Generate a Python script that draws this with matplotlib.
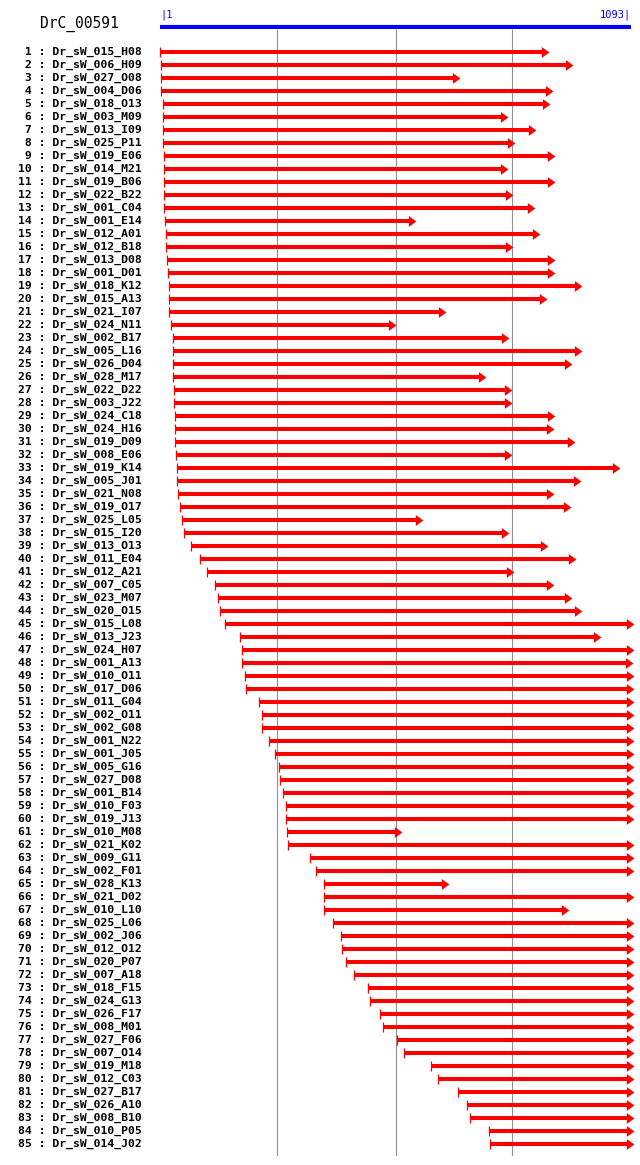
import matplotlib
matplotlib.use("Agg")
import matplotlib.pyplot as plt
import matplotlib.transforms as mtransforms
import numpy as np

# clone set aligned on DrC_00591 (length 1093)
title = "DrC_00591"
seq_len = 1093

names = [
    "Dr_sW_015_H08", "Dr_sW_006_H09", "Dr_sW_027_O08", "Dr_sW_004_D06", "Dr_sW_018_O13",
    "Dr_sW_003_M09", "Dr_sW_013_I09", "Dr_sW_025_P11", "Dr_sW_019_E06", "Dr_sW_014_M21",
    "Dr_sW_019_B06", "Dr_sW_022_B22", "Dr_sW_001_C04", "Dr_sW_001_E14", "Dr_sW_012_A01",
    "Dr_sW_012_B18", "Dr_sW_013_D08", "Dr_sW_001_D01", "Dr_sW_018_K12", "Dr_sW_015_A13",
    "Dr_sW_021_I07", "Dr_sW_024_N11", "Dr_sW_002_B17", "Dr_sW_005_L16", "Dr_sW_026_D04",
    "Dr_sW_028_M17", "Dr_sW_022_D22", "Dr_sW_003_J22", "Dr_sW_024_C18", "Dr_sW_024_H16",
    "Dr_sW_019_D09", "Dr_sW_008_E06", "Dr_sW_019_K14", "Dr_sW_005_J01", "Dr_sW_021_N08",
    "Dr_sW_019_O17", "Dr_sW_025_L05", "Dr_sW_015_I20", "Dr_sW_013_O13", "Dr_sW_011_E04",
    "Dr_sW_012_A21", "Dr_sW_007_C05", "Dr_sW_023_M07", "Dr_sW_020_O15", "Dr_sW_015_L08",
    "Dr_sW_013_J23", "Dr_sW_024_H07", "Dr_sW_001_A13", "Dr_sW_010_O11", "Dr_sW_017_D06",
    "Dr_sW_011_G04", "Dr_sW_002_O11", "Dr_sW_002_G08", "Dr_sW_001_N22", "Dr_sW_001_J05",
    "Dr_sW_005_G16", "Dr_sW_027_D08", "Dr_sW_001_B14", "Dr_sW_010_F03", "Dr_sW_019_J13",
    "Dr_sW_010_M08", "Dr_sW_021_K02", "Dr_sW_009_G11", "Dr_sW_002_F01", "Dr_sW_028_K13",
    "Dr_sW_021_D02", "Dr_sW_010_L10", "Dr_sW_025_L06", "Dr_sW_002_J06", "Dr_sW_012_O12",
    "Dr_sW_020_P07", "Dr_sW_007_A18", "Dr_sW_018_F15", "Dr_sW_024_G13", "Dr_sW_026_F17",
    "Dr_sW_008_M01", "Dr_sW_027_F06", "Dr_sW_007_O14", "Dr_sW_019_M18", "Dr_sW_012_C03",
    "Dr_sW_027_B17", "Dr_sW_026_A10", "Dr_sW_008_B10", "Dr_sW_010_P05", "Dr_sW_014_J02",
]

starts = [
    1, 4, 4, 4, 9, 9, 9, 9, 11, 11,
    11, 11, 11, 13, 16, 16, 18, 20, 23, 23,
    23, 27, 30, 30, 32, 32, 34, 34, 36, 36,
    36, 39, 41, 41, 43, 48, 53, 57, 74, 94,
    111, 129, 136, 141, 152, 187, 190, 192, 199, 201,
    231, 238, 238, 254, 268, 278, 280, 287, 292, 294,
    296, 298, 349, 363, 382, 382, 382, 403, 421, 424,
    433, 451, 484, 489, 512, 519, 551, 567, 630, 646,
    693, 713, 720, 764, 767,
]

ends = [
    897, 952, 690, 905, 899, 801, 866, 817, 910, 801,
    910, 812, 863, 588, 875, 812, 910, 910, 972, 891,
    657, 541, 803, 972, 949, 750, 810, 810, 910, 908,
    956, 810, 1061, 970, 908, 947, 604, 803, 894, 959,
    815, 908, 949, 972, 1093, 1017, 1093, 1091, 1093, 1093,
    1093, 1093, 1093, 1093, 1093, 1093, 1093, 1093, 1093, 1093,
    555, 1093, 1093, 1093, 664, 1093, 942, 1093, 1093, 1093,
    1093, 1093, 1093, 1093, 1093, 1093, 1093, 1093, 1093, 1093,
    1093, 1093, 1093, 1093, 1093,
]

grid_pos = [272, 547, 817]

RED = "#ff0000"
BLUE = "#0000ff"
GREY = "#909090"

W, H = 640, 1165
fig = plt.figure(figsize=(W / 100, H / 100), dpi=100)

# main track area: x in sequence coords, y in row numbers
x0, x1 = 160, 631
y_top, y_bot = 29, 1156
ax = fig.add_axes([x0 / W, 1 - y_bot / H, (x1 - x0) / W, (y_bot - y_top) / H])
ax.set_xlim(1, seq_len)
ax.set_ylim(1 + (y_bot - 52) / 13, 1 + (y_top - 52) / 13)
ax.axis("off")

rows = np.arange(1, len(names) + 1)

ax.vlines(grid_pos, *ax.get_ylim(), colors=GREY, lw=0.8, zorder=1)

ax.hlines(rows, starts, ends, colors=RED, lw=2.9, zorder=2, clip_on=False)
ax.vlines(starts, rows - 0.37, rows + 0.37, colors=RED, lw=0.9, zorder=3, clip_on=False)
head = [(2.7, 0), (-4.3, 5), (-4.3, -5), (2.7, 0)]
ax.plot(ends, rows, ls="none", marker=head, ms=7.8, mew=0, color=RED,
        zorder=3, clip_on=False)

# labels at left
trans = mtransforms.blended_transform_factory(fig.transFigure, ax.transData)
for r, name in zip(rows, names):
    ax.text(142 / W, r, f"{r:2d} : {name}", transform=trans, ha="right", va="center",
            family="DejaVu Sans Mono", weight="bold", fontsize=8.2, color="black")

# header: scale bar
hx = fig.add_axes([x0 / W, 1 - y_top / H, (x1 - x0) / W, y_top / H])
hx.set_xlim(1, seq_len)
hx.set_ylim(y_top, 0)
hx.axis("off")
hx.hlines(26.9, 1, seq_len, colors=BLUE, lw=3.0)
hx.text(1, 15, "|1", ha="left", va="center", color=BLUE,
        family="DejaVu Sans Mono", fontsize=7.5)
hx.text(seq_len, 15, f"{seq_len}|", ha="right", va="center", color=BLUE,
        family="DejaVu Sans Mono", fontsize=7.5)

fig.text(79 / W, 1 - 23.5 / H, title, ha="center", va="center",
         family="DejaVu Sans Mono", fontsize=10.5, color="black")

fig.savefig("out.png", dpi=100)
